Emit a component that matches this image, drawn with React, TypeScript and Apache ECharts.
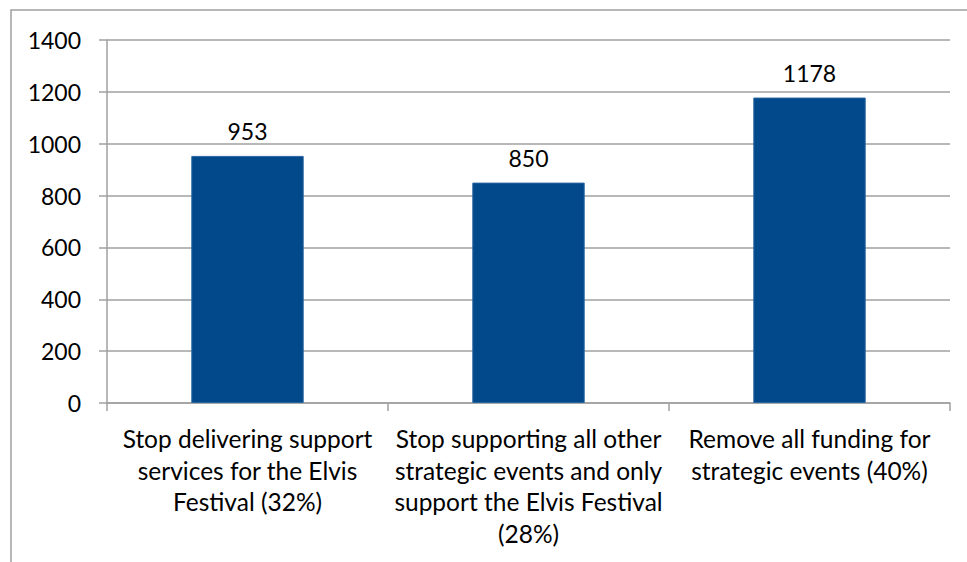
import React, { useEffect, useRef } from "react";
import * as echarts from "echarts";

const categories = [
  "Stop delivering support\nservices for the Elvis\nFestival (32%)",
  "Stop supporting all other\nstrategic events and only\nsupport the Elvis Festival\n(28%)",
  "Remove all funding for\nstrategic events (40%)",
];
const values = [953, 850, 1178];
const yMin = 0;
const yMax = 1400;
const yInterval = 200;

const FONT = "Lato";

export default function App() {
  const ref = useRef<HTMLDivElement>(null);
  useEffect(() => {
    if (!ref.current) return;
    const chart = echarts.init(ref.current, null, { renderer: "svg" });
    chart.setOption({
      animation: false,
      backgroundColor: "#ffffff",
      graphic: [
        {
          type: "rect",
          shape: { x: 11, y: 10, width: 1000, height: 600 },
          style: { fill: "none", stroke: "#A0A0A0", lineWidth: 1.5 },
          silent: true,
        },
      ],
      grid: { left: 107, right: 17, top: 40, bottom: 159, containLabel: false },
      xAxis: {
        type: "category",
        data: categories,
        axisLine: { show: true, lineStyle: { color: "#A0A0A0", width: 1.5 } },
        axisTick: { show: true, length: 8, alignWithLabel: false, lineStyle: { color: "#A0A0A0", width: 1.5 } },
        axisLabel: {
          interval: 0,
          margin: 20,
          fontFamily: FONT,
          fontSize: 24.5,
          lineHeight: 31.5,
          color: "#000000",
        },
      },
      yAxis: {
        type: "value",
        min: yMin,
        max: yMax,
        interval: yInterval,
        axisLine: { show: true, lineStyle: { color: "#A0A0A0", width: 1.5 } },
        axisTick: { show: true, length: 8, lineStyle: { color: "#A0A0A0", width: 1.5 } },
        splitLine: { show: true, lineStyle: { color: "#A0A0A0", width: 1.5 } },
        axisLabel: {
          margin: 26,
          fontFamily: FONT,
          fontSize: 23,
          color: "#000000",
          formatter: (v: number) => String(v),
        },
      },
      series: [
        {
          type: "bar",
          data: values,
          barWidth: "40%",
          itemStyle: { color: "#02498B", borderColor: "#2A66A0", borderWidth: 1 },
          label: {
            show: true,
            position: "top",
            distance: 13,
            fontFamily: FONT,
            fontSize: 23,
            color: "#000000",
          },
        },
      ],
    });
    return () => chart.dispose();
  }, []);
  return <div ref={ref} style={{ width: 967, height: 562, position: "absolute", left: 0, top: 0 }} />;
}
